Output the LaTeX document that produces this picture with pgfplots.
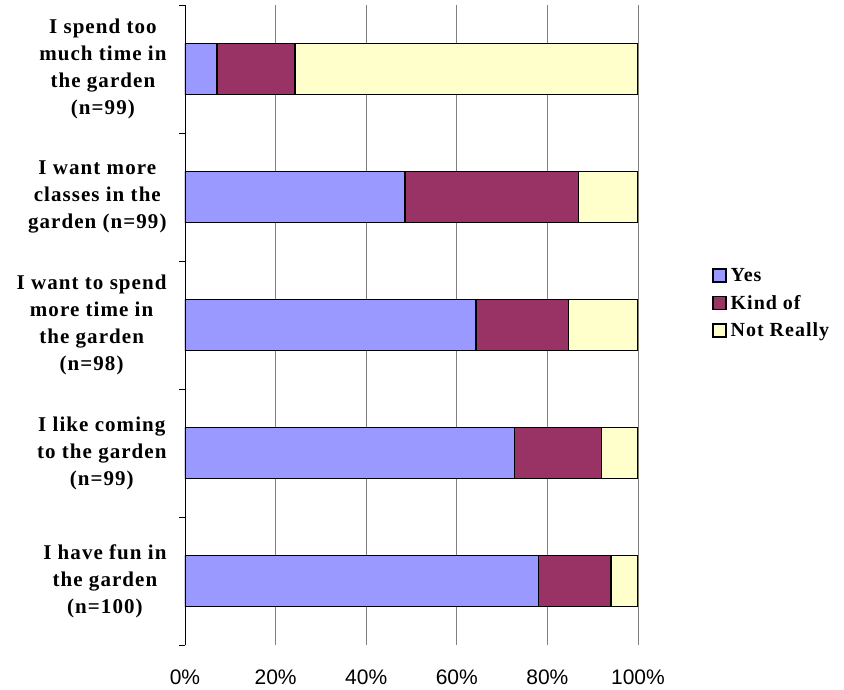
\documentclass[border=0pt]{standalone}
\usepackage{fontspec}
\usepackage{pgfplots}
\pgfplotsset{compat=1.18}
\setmainfont{Liberation Serif}
\newfontfamily\arialfont{Liberation Sans}
\newfontfamily\lblfont[LetterSpace=5]{Liberation Serif}
\definecolor{yesc}{HTML}{9999FF}
\definecolor{kindc}{HTML}{993366}
\definecolor{notc}{HTML}{FFFFCC}

\begin{document}
\begin{tikzpicture}
\useasboundingbox (0,0) rectangle (844pt,689pt);
\begin{axis}[
  at={(185pt,44pt)}, anchor=south west,
  scale only axis, width=453pt, height=640pt,
  xbar stacked, bar width=0.4,
  xmin=0, xmax=100, ymin=-0.5, ymax=4.5,
  axis x line=bottom, axis y line=left,
  x axis line style={draw=none},
  y axis line style={-, line width=0.8pt, black},
  xmajorgrids, grid style={gray, line width=0.8pt},
  xtick={0,20,...,100},
  xticklabel={\pgfmathprintnumber{\tick}\%},
  xticklabel style={font=\arialfont\fontsize{21}{21}\selectfont, yshift=-17pt},
  /pgf/number format/assume math mode=true,
  major x tick style={draw=none},
  ytick={0,...,4},
  yticklabels={
    {I have fun in\\the garden\\(n=100)},
    {I like coming\\to the garden\\(n=99)},
    {I want to spend\\more time in\\the garden\\(n=98)},
    {I want more\\classes in the\\garden (n=99)},
    {I spend too\\much time in\\the garden\\(n=99)}},
  major y tick style={draw=none},
  minor ytick={-0.5,0.5,...,4.5},
  tick align=outside, minor tick length=6pt,
  minor y tick style={black, line width=0.8pt},
  yticklabel style={align=center, anchor=east, inner sep=0pt, xshift=-14pt,
    font=\lblfont\bfseries\fontsize{21}{27}\selectfont},
  legend image code/.code={\draw[#1] (0pt,-6.5pt) rectangle (13pt,6.5pt);},
  legend style={at={(1.163,0.534)}, anchor=west, draw=none, fill=none,
    inner sep=0pt, row sep=8pt,
    nodes={inner xsep=4pt},
    font=\lblfont\bfseries\fontsize{20}{22}\selectfont},
  legend cell align=left,
]
\addplot[fill=yesc, draw=black, line width=1.6pt] coordinates {
  (78,0) (72.7,1) (64.3,2) (48.5,3) (7.1,4)};
\addplot[fill=kindc, draw=black, line width=1.6pt] coordinates {
  (16,0) (19.2,1) (20.4,2) (38.4,3) (17.2,4)};
\addplot[fill=notc, draw=black, line width=1.6pt] coordinates {
  (6,0) (8.1,1) (15.3,2) (13.1,3) (75.7,4)};
\legend{Yes, Kind of, Not Really}
\end{axis}
\end{tikzpicture}
\end{document}
